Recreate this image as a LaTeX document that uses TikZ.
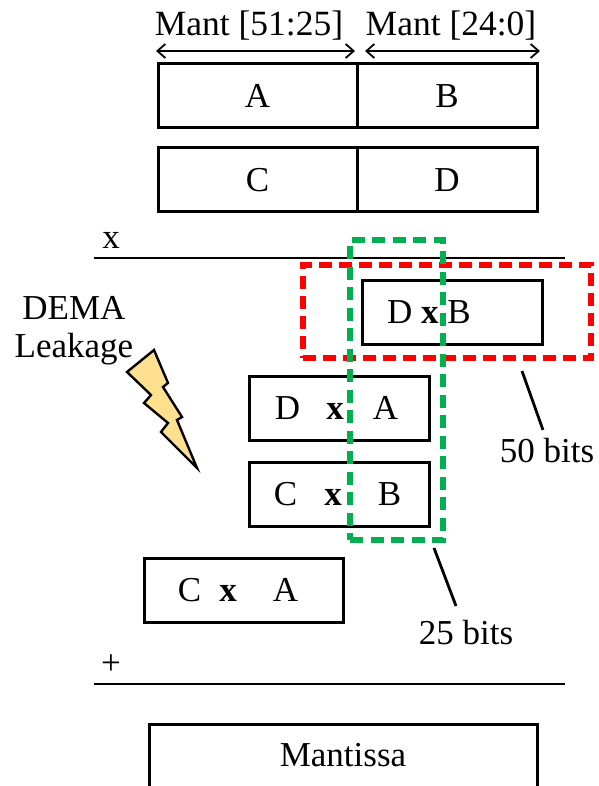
\documentclass[tikz,border=0pt]{standalone}
\usepackage{fontspec}
\setmainfont{Liberation Serif}
\usetikzlibrary{positioning,arrows.meta}
\definecolor{boltfill}{HTML}{FFE08F}
\definecolor{redbox}{HTML}{FF0000}
\definecolor{greenbox}{HTML}{00B050}
\begin{document}
\begin{tikzpicture}[x=1pt,y=-1pt,font=\fontsize{35}{40}\selectfont,>={Straight Barb[length=8pt,width=14pt]},
    box/.style={draw,line width=3pt,inner sep=0pt,minimum height=64pt},
    half/.style={box,minimum width=199pt},
    half2/.style={box,minimum width=180pt},
    io/.style={inner sep=0pt,align=center},
    rule/.style={line width=2.6pt},
    ar/.style={<->,line width=1.8pt},
    tick/.style={line width=2.8pt},
    redzone/.style={draw=redbox,line width=5.5pt,dash pattern=on 13pt off 7pt},
    greenzone/.style={draw=greenbox,line width=6pt,dash pattern=on 13pt off 7.5pt}]
  \useasboundingbox (0,0) rectangle (598,786);
  % mantissa split
  \node[half] (a) at (257.5,96) {A};
  \node[half2,right=-3pt of a] (b) {B};
  \node[half] (c) at (257.5,180) {C};
  \node[half2,right=-3pt of c] (d) {D};
  \node[io] (mantHi) at (249,26) {\fontsize{35.5}{40}\selectfont Mant [51:25]};
  \node[io] (mantLo) at (451,26) {\fontsize{35.5}{40}\selectfont Mant [24:0]};
  \coordinate (hiL) at (156,51); \coordinate (hiR) at (355,51);
  \coordinate (loL) at (365,51); \coordinate (loR) at (540,51);
  \draw[ar](hiL)--(hiR); \draw[ar](loL)--(loR);
  % partial products
  \coordinate (mulL) at (94,258); \coordinate (mulR) at (565,258);
  \draw[rule](mulL)--(mulR);
  \node[io] (mul) at (111,240) {x};
  \node[half2] (db) at (452.5,312) {\hspace*{-47pt}D \textbf{x} B};
  \node[half2] (da) at (339.5,408) {\hspace*{-6pt}D\hspace*{26pt}\textbf{x}\hspace*{29pt}A};
  \node[half2] (cb) at (339.5,494) {\hspace*{-4pt}C\hspace*{27pt}\textbf{x}\hspace*{36pt}B};
  \node[half] (ca) at (244,590) {\hspace*{-12pt}C\hspace*{18pt}\textbf{x}\hspace*{36pt}A};
  \coordinate (addL) at (94,684); \coordinate (addR) at (565,684);
  \draw[rule](addL)--(addR);
  \node[io] (add) at (111,665) {+};
  \node[box,minimum width=388pt,minimum height=72pt] (mant) at (343,760) {};
  \node[io] (mantTxt) at (343,755) {Mantissa};
  % leakage
  \node[io] (dema) at (74,308) {DEMA};
  \node[io] (leak) at (74,349) {Leakage};
  \draw[line width=2.4pt,fill=boltfill,miter limit=10] (154,350) -- (127,372) -- (151,395) -- (144,403) -- (168,423)
    -- (161,432) -- (197,468) -- (177,420) -- (182,417) -- (163,387) -- (168,383) -- cycle;
  % bit windows
  \node[redzone,minimum width=288pt,minimum height=93pt,inner sep=0pt] (redwin) at (447,311.5) {};
  \node[greenzone,minimum width=93pt,minimum height=300pt,inner sep=0pt] (greenwin) at (396.5,390) {};
  \node[io] (bits50) at (547,451) {50 bits};
  \node[io] (bits25) at (466,633) {25 bits};
  \coordinate (t50) at (522,371); \coordinate (e50) at (543,430);
  \coordinate (t25) at (434,548); \coordinate (e25) at (456,606);
  \draw[tick](t50)--(e50);
  \draw[tick](t25)--(e25);
\end{tikzpicture}
\end{document}
